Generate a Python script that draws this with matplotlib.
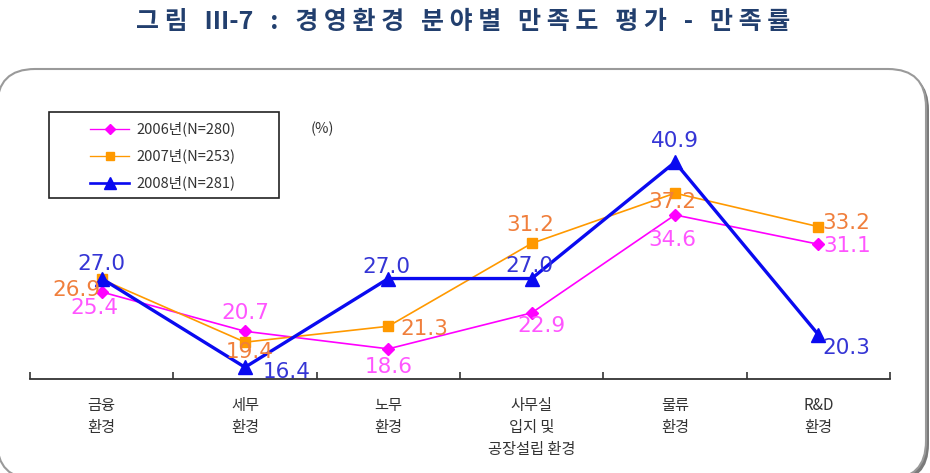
import numpy as np
import matplotlib
matplotlib.use('Agg')
import matplotlib.pyplot as plt
from matplotlib.patches import FancyBboxPatch, Rectangle
from matplotlib.lines import Line2D

plt.rcParams['font.family'] = ['Noto Sans CJK KR', 'DejaVu Sans']

categories = ['금융\n환경', '세무\n환경', '노무\n환경', '사무실\n입지 및\n공장설립 환경', '물류\n환경', 'R&D\n환경']
series_names = ['2006년(N=280)', '2007년(N=253)', '2008년(N=281)']
v2006 = [25.4, 20.7, 18.6, 22.9, 34.6, 31.1]
v2007 = [26.9, 19.4, 21.3, 31.2, 37.2, 33.2]
v2008 = [27.0, 16.4, 27.0, 27.0, 40.9, 20.3]

# where each value label sits relative to its point (pixels, y down)
off2006 = [(-7, 16), (0, -18), (0, 18), (10, 13), (-3, 25), (29, 2)]
off2007 = [(-25, 11), (5, 10), (36, 3), (-1, -18), (-3, 9), (28, -4)]
off2008 = [(0, -15), (42, 5), (-2, -12), (-2, -13), (0, -21), (28, 13)]

styles = [
    dict(color='#FF00FF', marker='D', ms=6, lw=1.2, txt='#FF55FF'),
    dict(color='#FF9900', marker='s', ms=7, lw=1.2, txt='#F07F3C'),
    dict(color='#0A0AF0', marker='^', ms=10, lw=2.4, txt='#3535D5'),
]

W, H = 930, 473
fig = plt.figure(figsize=(W / 100, H / 100), dpi=100)

# background frame in pixel coordinates
bg = fig.add_axes([0, 0, 1, 1], zorder=0)
bg.set_xlim(0, W)
bg.set_ylim(H, 0)
bg.axis('off')
bg.add_patch(FancyBboxPatch((0, 72), 929, 410, boxstyle='round,pad=0,rounding_size=38',
                            fc='#7a7a7a', ec='none'))
bg.add_patch(FancyBboxPatch((-3, 69), 929, 410, boxstyle='round,pad=0,rounding_size=38',
                            fc='white', ec='#9a9a9a', lw=1.5))

title = '그 림   III-7   :   경 영 환 경   분 야 별   만 족 도   평 가   -   만 족 률'
bg.text(W / 2 - 2, 22, title, ha='center', va='center', fontsize=18, fontweight='bold',
        color='#223F6E')

ax = fig.add_axes([30 / W, (H - 379) / H, 860 / W, 293 / H], zorder=1)
ax.patch.set_alpha(0)
x = np.arange(len(categories))
for vals, offs, st in zip([v2006, v2007, v2008], [off2006, off2007, off2008], styles):
    ax.plot(x, vals, color=st['color'], lw=st['lw'], marker=st['marker'], ms=st['ms'],
            mec=st['color'], mfc=st['color'], clip_on=False)
    for xi, v, (dx, dy) in zip(x, vals, offs):
        ax.annotate(f'{v:.1f}', (xi, v), xytext=(dx, -dy), textcoords='offset pixels',
                    ha='center', va='center', fontsize=15.5, color=st['txt'],
                    family=['DejaVu Sans'])

ax.set_xlim(-0.5, len(categories) - 0.5)
ax.set_ylim(15, 50)
for s in ['top', 'left', 'right']:
    ax.spines[s].set_visible(False)
ax.spines['bottom'].set_color('#333333')
ax.spines['bottom'].set_linewidth(1.3)
ax.set_yticks([])
ax.set_xticks(x)
ax.set_xticklabels(categories, fontsize=11, color='#333333', linespacing=1.4)
ax.set_xticks(np.arange(-0.5, len(categories), 1), minor=True)
ax.tick_params(axis='x', which='major', length=0, pad=13)
ax.tick_params(axis='x', which='minor', direction='in', length=5, color='#333333', width=1.2)

# legend box drawn by hand
bg.add_patch(Rectangle((49, 112), 230, 86, fc='white', ec='#222222', lw=1.2))
for i, (name, st) in enumerate(zip(series_names, styles)):
    yy = 129 + 27 * i
    bg.add_line(Line2D([90, 129], [yy, yy], color=st['color'], lw=st['lw'] * 0.8))
    bg.plot([109.5], [yy], marker=st['marker'], ms=st['ms'] * 0.9, color=st['color'])
    bg.text(136, yy, name, ha='left', va='center', fontsize=10.5, color='#333333')
bg.text(322, 129, '(%)', ha='center', va='center', fontsize=10.5, color='#333333')

fig.savefig('out.png', dpi=100)
